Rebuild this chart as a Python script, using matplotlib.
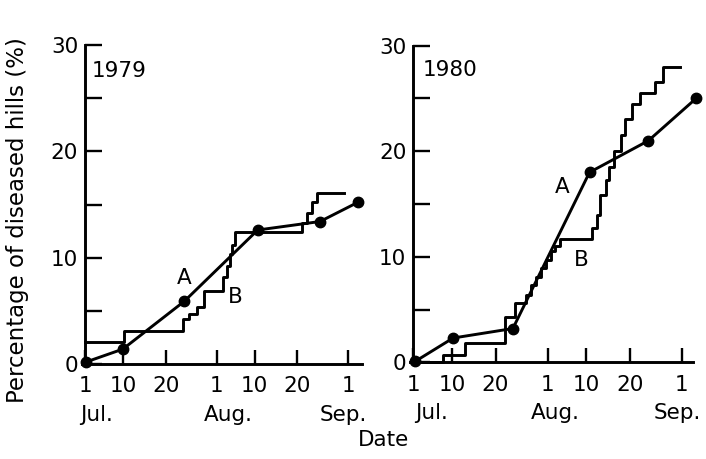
import matplotlib
matplotlib.use("Agg")
import matplotlib.pyplot as plt
from matplotlib.ticker import FixedLocator, NullFormatter

plt.rcParams['font.family'] = ['DejaVu Sans']

# Days after 1 July
tick_days = [0, 9, 19, 31, 40, 50, 62]
tick_labels = ["1", "10", "20", "1", "10", "20", "1"]
months = ["Jul.", "Aug.", "Sep."]

# 1979
a79_days = [0.3, 8.9, 23.4, 40.7, 55.4, 64.3]
a79_vals = [0.2, 1.4, 5.9, 12.6, 13.4, 15.2]
b79_days = [0, 9.2, 23.2, 24.5, 26.3, 28.1, 32.6, 33.4, 34.1, 34.7, 35.4,
            51.2, 52.3, 53.4, 54.8, 61.0]
b79_vals = [2.1, 3.1, 4.2, 4.7, 5.4, 6.9, 8.2, 9.2, 10.3, 11.2, 12.4,
            13.3, 14.2, 15.2, 16.1, 16.1]

# 1980
a80_days = [0.5, 9.2, 23.0, 40.7, 54.3, 65.3]
a80_vals = [0.1, 2.3, 3.2, 18.0, 21.0, 25.0]
b80_days = [0, 6.9, 12.0, 21.3, 23.5, 26.0, 27.2, 28.4, 29.5, 30.6, 31.7, 32.8,
            33.9, 41.2, 42.4, 43.2, 44.4, 45.2, 46.3, 47.9, 48.9, 50.5, 52.4,
            55.9, 57.6, 61.6]
b80_vals = [0, 0.7, 1.8, 4.3, 5.6, 6.4, 7.3, 8.1, 8.9, 9.7, 10.5, 11.0,
            11.7, 12.7, 14.0, 15.9, 17.3, 18.5, 20.0, 21.5, 23.1, 24.5, 25.5,
            26.6, 28.0, 28.0]

W, H = 706, 459
fig = plt.figure(figsize=(W / 100, H / 100), dpi=100)

FS = 15.5
LW = 2.1


def setup(ax, xlim, month_x, year, year_pos, a_pos, b_pos):
    ax.set_xlim(*xlim)
    ax.set_ylim(0, 30)
    for s in ['top', 'right']:
        ax.spines[s].set_visible(False)
    ax.spines['left'].set_position(('data', 0))
    ax.spines['left'].set_linewidth(2.1)
    ax.spines['bottom'].set_linewidth(2.1)
    ax.xaxis.set_major_locator(FixedLocator(tick_days))
    ax.set_xticklabels(tick_labels, fontsize=FS)
    ax.yaxis.set_major_locator(FixedLocator([0, 10, 20, 30]))
    ax.yaxis.set_minor_locator(FixedLocator([5, 15, 25]))
    ax.yaxis.set_minor_formatter(NullFormatter())
    ax.set_yticklabels(["0", "10", "20", "30"], fontsize=FS)
    ax.tick_params(axis='x', direction='in', length=10, width=1.7, pad=9)
    ax.tick_params(axis='y', which='both', direction='in', length=12, width=1.7, pad=5)
    for m, mx in zip(months, month_x):
        ax.text(mx, -0.16, m, transform=ax.get_xaxis_transform(),
                ha='center', va='center', fontsize=FS)
    ax.text(year_pos[0], year_pos[1], year, ha='center', va='center', fontsize=FS)
    ax.text(a_pos[0], a_pos[1], "A", ha='center', va='center', fontsize=FS)
    ax.text(b_pos[0], b_pos[1], "B", ha='center', va='center', fontsize=FS)


ax1 = fig.add_axes([81.7 / W, 1 - 364 / H, (362 - 81.7) / W, (364 - 45) / H])
setup(ax1, (-0.8, 65.3), [2.6, 33.7, 60.8], "1979", (8, 27.6), (23.4, 8.1), (35.4, 6.3))
ax1.step(b79_days, b79_vals, where='post', color='black', lw=LW, clip_on=False)
ax1.plot(a79_days, a79_vals, color='black', lw=LW, marker='o', ms=7.5, clip_on=False)

ax2 = fig.add_axes([409.8 / W, 1 - 362.3 / H, (693 - 409.8) / W, (362.3 - 45.7) / H])
setup(ax2, (-0.8, 64.6), [4.3, 32.7, 60.9], "1980", (8.5, 27.7), (34.3, 16.6), (38.9, 9.7))
ax2.step(b80_days, b80_vals, where='post', color='black', lw=LW, clip_on=False)
ax2.plot(a80_days, a80_vals, color='black', lw=LW, marker='o', ms=7.5, clip_on=False)

fig.text(383 / W, 1 - 440 / H, "Date", ha='center', va='center', fontsize=FS)
fig.text(18 / W, 1 - 220 / H, "Percentage of diseased hills (%)", rotation=90,
         ha='center', va='center', fontsize=16.5)

fig.savefig("out.png", dpi=100)
